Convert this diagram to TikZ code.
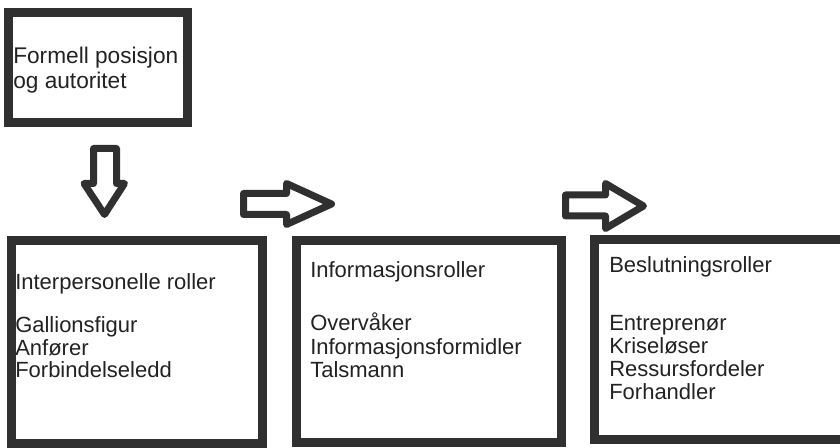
\documentclass[tikz,border=0pt]{standalone}
\usepackage{fontspec}
\setmainfont{Liberation Sans}
\definecolor{framegray}{HTML}{303030}
\definecolor{textgray}{HTML}{222222}
\begin{document}
\begin{tikzpicture}[x=0.75pt, y=-0.75pt,
    roleframe/.style={draw=framegray, line width=6.75pt},
    blockarrow/.style={draw=framegray, fill=white, line width=5.25pt, line join=round},
    roletext/.style={anchor=base west, inner sep=0pt, text=textgray, font=\fontsize{16.5}{19}\selectfont}]
    \useasboundingbox (0,0) rectangle (840,448);

    % top box
    \draw[roleframe] (8.5,13) rectangle (187,123);
    \node[roletext, font=\fontsize{17}{20}\selectfont] (formell) at (13,64) {Formell posisjon};
    \node[roletext, font=\fontsize{17}{20}\selectfont] (autoritet) at (13,89) {og autoritet};

    % block arrows
    \draw[blockarrow] (93.5,148.5) -- (116.5,148.5) -- (116.5,183.5) -- (124.5,183.5)
        -- (104.5,214.5) -- (84,183.5) -- (93.5,183.5) -- cycle;
    \draw[blockarrow] (243.5,193.5) -- (286.5,193.5) -- (286.5,183.5) -- (331.5,204)
        -- (286.5,224.5) -- (286.5,214.5) -- (243.5,214.5) -- cycle;
    \draw[blockarrow] (565.5,195) -- (605.5,195) -- (605.5,183.5) -- (643.5,206)
        -- (605.5,228.5) -- (605.5,216) -- (565.5,216) -- cycle;

    % role boxes
    \draw[roleframe] (11,241) rectangle (262.5,443.5);
    \draw[roleframe] (296.5,241) rectangle (561,443);
    \draw[roleframe] (594.5,240) rectangle (850,440);

    \node[roletext] (inter) at (15,290) {Interpersonelle roller};
    \node[roletext] (gallion) at (15,333) {Gallionsfigur};
    \node[roletext] (anforer) at (15,356) {Anfører};
    \node[roletext] (forbind) at (15,378) {Forbindelseledd};

    \node[roletext] (info) at (310,278) {Informasjonsroller};
    \node[roletext] (overvaker) at (310,331) {Overvåker};
    \node[roletext] (formidler) at (310,355) {Informasjonsformidler};
    \node[roletext] (talsmann) at (310,378) {Talsmann};

    \node[roletext] (beslut) at (609,273) {Beslutningsroller};
    \node[roletext] (entrepr) at (609,331) {Entreprenør};
    \node[roletext] (krise) at (609,354) {Kriseløser};
    \node[roletext] (ressurs) at (609,377) {Ressursfordeler};
    \node[roletext] (forhandler) at (609,400) {Forhandler};
\end{tikzpicture}
\end{document}
